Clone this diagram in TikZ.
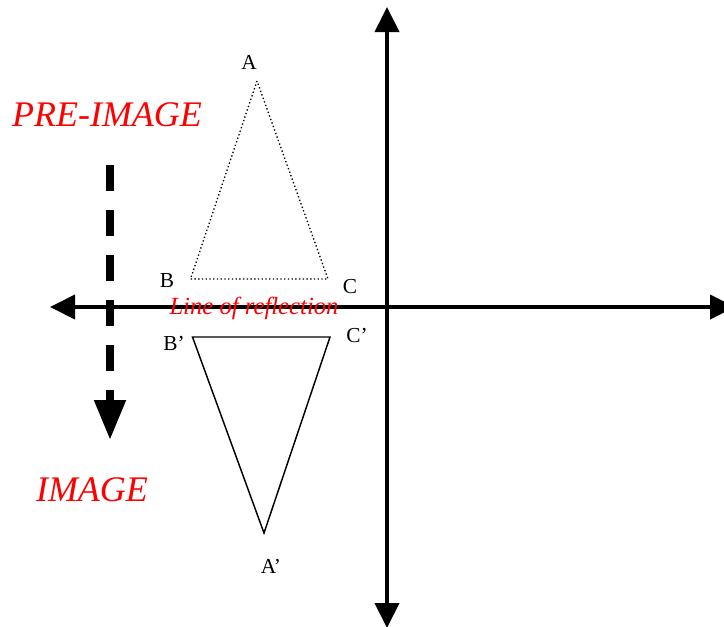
\documentclass[tikz,border=0pt]{standalone}
\usepackage{fontspec}
\setmainfont{Liberation Serif}
\usetikzlibrary{arrows.meta}
\begin{document}
\begin{tikzpicture}[x=0.75pt,y=-0.75pt,
  axis/.style={line width=3pt,{Triangle[length=18.75pt,width=18pt]}-{Triangle[length=18.75pt,width=18pt]}},
  vlabel/.style={inner sep=0pt,font=\fontsize{16}{18}\selectfont},
  bigred/.style={inner sep=0pt,text=red,font=\fontsize{27}{30}\selectfont\itshape},
  reflab/.style={inner sep=0pt,text=red,font=\fontsize{18.5}{20}\selectfont\itshape},
  preimg/.style={line width=1pt,dash pattern=on 1pt off 1.8pt,line join=round},
  imgtri/.style={line width=1.1pt,line join=miter},
  moveArrow/.style={line width=6pt,dash pattern=on 19.5pt off 14.25pt,-{Triangle[length=30pt,width=22.5pt]}}
]
\useasboundingbox (0,0) rectangle (724,626);
% axes
\coordinate (xl) at (50,307);
\coordinate (xr) at (735,307);
\coordinate (yt) at (387,7);
\coordinate (yb) at (387,628);
\draw[axis] (yb) -- (yt);
\draw[axis] (xl) -- (xr);
% dashed movement arrow
\coordinate (ds) at (110,165);
\coordinate (de) at (110,440);
\draw[moveArrow] (ds) -- (de);
% pre-image triangle
\coordinate (pA) at (257,81);
\coordinate (pB) at (190.5,279);
\coordinate (pC) at (328,279);
\draw[preimg] (pA) -- (pB) -- (pC) -- cycle;
% image triangle
\coordinate (iA) at (264,533);
\coordinate (iB) at (192.5,337);
\coordinate (iC) at (330,337);
\draw[imgtri] (iB) -- (iC) -- (iA) -- cycle;
% labels
\node[vlabel] (lA) at (249,62) {A};
\node[vlabel] (lB) at (167,281) {B};
\node[vlabel] (lC) at (350,287) {C};
\node[vlabel] (lB2) at (174,343) {B’};
\node[vlabel] (lC2) at (357,336) {C’};
\node[vlabel] (lA2) at (271,566) {A’};
\node[bigred] (pre) at (107,114.5) {PRE-IMAGE};
\node[bigred] (img) at (92,490) {IMAGE};
\node[reflab,anchor=base] (lor) at (254,314) {Line of reflection};
\end{tikzpicture}
\end{document}
